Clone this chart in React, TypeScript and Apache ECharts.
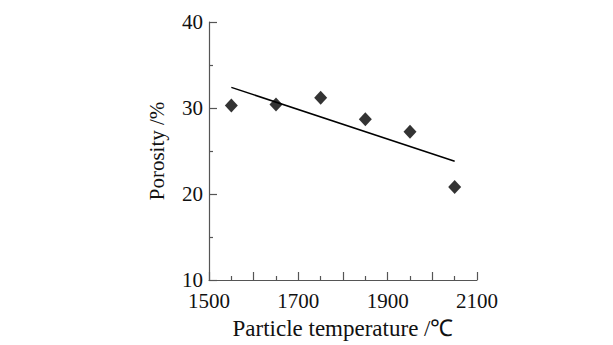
import React, { useEffect, useRef } from "react";
import * as echarts from "echarts";

const temperatures = [1550, 1650, 1750, 1850, 1950, 2050];
const porosity = [30.3, 30.4, 31.2, 28.7, 27.25, 20.8];
const fitLine = [
  [1550, 32.4],
  [2050, 23.8],
];

const FONT = "Liberation Serif";

export default function App() {
  const ref = useRef<HTMLDivElement>(null);
  useEffect(() => {
    document.body.style.margin = "0";
    const chart = echarts.init(ref.current!, null, { renderer: "svg" });
    chart.setOption({
      animation: false,
      backgroundColor: "#ffffff",
      grid: { left: 209, right: 136, top: 22, bottom: 57 },
      xAxis: {
        type: "value",
        min: 1500,
        max: 2100,
        interval: 100,
        name: "Particle temperature /℃",
        nameLocation: "middle",
        nameGap: 37,
        nameTextStyle: { fontFamily: FONT, fontSize: 23, color: "#111" },
        axisLine: { show: true, lineStyle: { color: "#555", width: 1.2 } },
        axisTick: { show: true, inside: true, length: 8, lineStyle: { color: "#555", width: 1.2 } },
        minorTick: { show: true, splitNumber: 2, length: 4, lineStyle: { color: "#555", width: 1.2 } },
        splitLine: { show: false },
        axisLabel: {
          fontFamily: FONT,
          fontSize: 21,
          color: "#111",
          margin: 10,
          formatter: (v: number) => ((v - 1500) % 200 === 0 ? String(v) : ""),
        },
      },
      yAxis: {
        type: "value",
        min: 10,
        max: 40,
        interval: 10,
        name: "Porosity /%",
        nameLocation: "middle",
        nameGap: 42,
        nameRotate: 90,
        nameTextStyle: { fontFamily: FONT, fontSize: 21, color: "#111" },
        axisLine: { show: true, lineStyle: { color: "#555", width: 1.2 } },
        axisTick: { show: true, inside: true, length: 8, lineStyle: { color: "#555", width: 1.2 } },
        minorTick: { show: true, splitNumber: 2, length: 4, lineStyle: { color: "#555", width: 1.2 } },
        splitLine: { show: false },
        axisLabel: { fontFamily: FONT, fontSize: 21, color: "#111", margin: 6 },
      },
      series: [
        {
          type: "line",
          data: fitLine,
          symbol: "none",
          lineStyle: { color: "#000", width: 1.5 },
        },
        {
          type: "scatter",
          data: temperatures.map((t, i) => [t, porosity[i]]),
          symbol: "diamond",
          symbolSize: [13, 14],
          itemStyle: { color: "#000" },
        },
      ],
    });
    return () => chart.dispose();
  }, []);
  return <div ref={ref} style={{ width: 613, height: 345 }} />;
}
